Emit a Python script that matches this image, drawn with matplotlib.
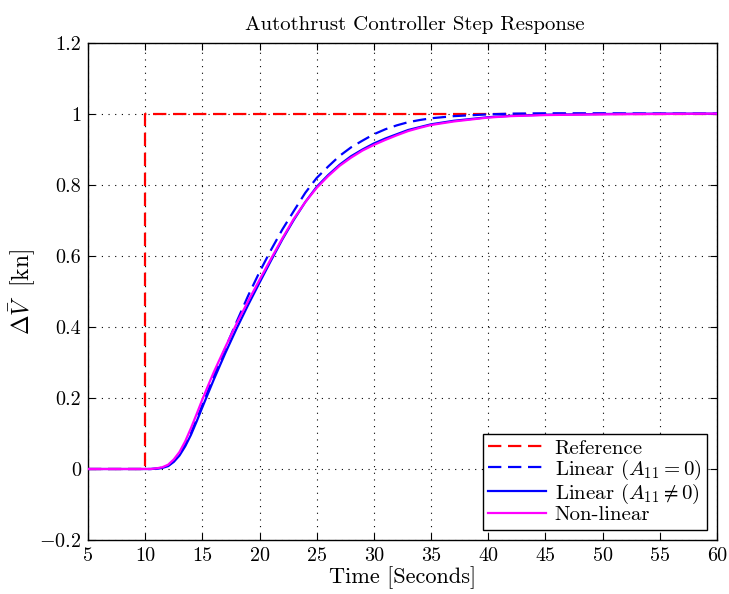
import matplotlib
matplotlib.use("Agg")
import matplotlib.pyplot as plt
from matplotlib.ticker import FuncFormatter

plt.rcParams['font.family'] = ['cmr10', 'DejaVu Serif']
plt.rcParams['mathtext.fontset'] = 'cm'
plt.rcParams['axes.formatter.use_mathtext'] = True
plt.rcParams['axes.unicode_minus'] = True

# ---- data ----
ref_time = [5, 10, 10, 60]
ref_values = [0, 0, 1, 1]

time = [5, 10, 10.5, 11, 11.5, 12, 12.5, 13, 13.5, 14, 14.5, 15, 15.5, 16, 17, 18, 19,
        20, 21, 22, 23, 24, 25, 26, 27, 28, 29, 30, 31, 32, 33, 34, 35, 37, 40, 42,
        45, 50, 55, 60]

linear_a11_zero = [0, 0, 0.0, 0.001, 0.004, 0.009, 0.022, 0.041, 0.068, 0.101, 0.14,
                   0.18, 0.221, 0.262, 0.34, 0.415, 0.488,
                   0.555, 0.617, 0.675, 0.727, 0.778, 0.82, 0.852, 0.882, 0.906, 0.925,
                   0.943, 0.957, 0.968, 0.977, 0.983, 0.988, 0.994, 0.999, 1.001, 1.002,
                   1.002, 1.001, 1.001]

linear_a11_nonzero = [0, 0, 0.0, 0.001, 0.003, 0.008, 0.02, 0.038, 0.064, 0.096, 0.134,
                      0.174, 0.213, 0.252, 0.326, 0.396, 0.462,
                      0.525, 0.587, 0.647, 0.702, 0.752, 0.795, 0.828, 0.857, 0.881, 0.9,
                      0.917, 0.931, 0.943, 0.955, 0.963, 0.971, 0.981, 0.991, 0.995, 0.998,
                      1.0, 1.001, 1.001]

non_linear = [0, 0, 0.0, 0.002, 0.005, 0.012, 0.027, 0.048, 0.078, 0.115, 0.155,
              0.196, 0.235, 0.273, 0.343, 0.41, 0.473,
              0.533, 0.592, 0.65, 0.705, 0.752, 0.792, 0.825, 0.854, 0.877, 0.897,
              0.913, 0.927, 0.94, 0.952, 0.961, 0.969, 0.979, 0.99, 0.994, 0.997,
              0.999, 1.0, 1.001]

x_ticks = [5, 10, 15, 20, 25, 30, 35, 40, 45, 50, 55, 60]
y_ticks = [-0.2, 0, 0.2, 0.4, 0.6, 0.8, 1.0, 1.2]

# ---- figure ----
fig = plt.figure(figsize=(7.29, 5.94), dpi=100)
ax = fig.add_axes([88/729, 1-540/594, (717-88)/729, (540-43)/594])

lw = 1.6
ax.plot(ref_time, ref_values, color='red', ls=(0, (6, 3)), lw=lw, label='Reference', zorder=3)
ax.plot(time, linear_a11_zero, color='blue', ls=(0, (6, 3)), lw=lw,
        label=r'Linear $(A_{11} = 0)$', zorder=4)
ax.plot(time, linear_a11_nonzero, color='blue', ls='-', lw=lw,
        label=r'Linear $(A_{11} \neq 0)$', zorder=5)
ax.plot(time, non_linear, color='magenta', ls='-', lw=lw, label='Non-linear', zorder=6)

ax.set_xlim(5, 60)
ax.set_ylim(-0.2, 1.2)
ax.set_xticks(x_ticks)
ax.set_yticks(y_ticks)
ax.yaxis.set_major_formatter(FuncFormatter(lambda v, p: ('$-$%g' % abs(v)) if v < -1e-9 else '%g' % (0 if abs(v) < 1e-9 else v)))
ax.xaxis.set_major_formatter(FuncFormatter(lambda v, p: '%g' % v))

ax.grid(True, color='black', ls=(0, (1, 5)), lw=0.8)
ax.tick_params(direction='in', top=True, right=True, length=5, width=0.8, labelsize=14.5, pad=5)
for s in ax.spines.values():
    s.set_linewidth(1.0)

ax.set_title('Autothrust Controller Step Response', fontsize=15, pad=9, x=0.52)
ax.set_xlabel('Time [Seconds]', fontsize=16, labelpad=1)
ax.set_ylabel(r'$\Delta\bar{V}\ $ [kn]', fontsize=17)
ax.yaxis.set_label_coords(-0.08, 0.5)

leg = ax.legend(loc='lower right', fontsize=15, frameon=True, fancybox=False,
                edgecolor='black', framealpha=1, handlelength=2.8, labelspacing=0.0,
                borderpad=0.25, handletextpad=0.4, borderaxespad=0.5)
leg.get_frame().set_linewidth(1.0)

fig.savefig('out.png', dpi=100)
